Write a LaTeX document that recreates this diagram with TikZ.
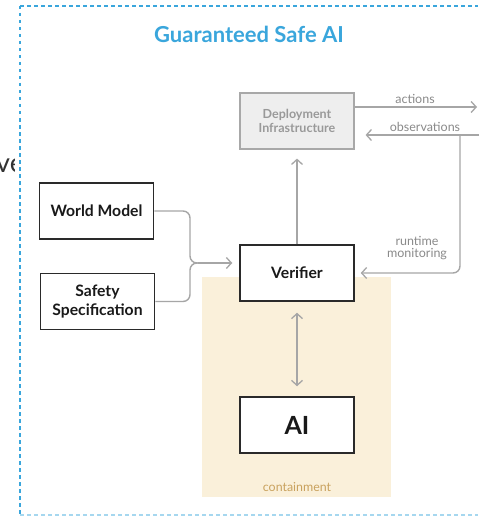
\documentclass[tikz,border=0pt]{standalone}
\usepackage{fontspec}
\setmainfont{Lato}
\usetikzlibrary{arrows.meta}
\definecolor{gsblue}{HTML}{3AA6DC}
\definecolor{lineg}{HTML}{A6A6A6}
\definecolor{depfill}{HTML}{EEEEEE}
\definecolor{depdraw}{HTML}{A8A8A8}
\definecolor{deptext}{HTML}{999999}
\definecolor{contfill}{HTML}{FAF0DA}
\definecolor{conttext}{HTML}{C9A25E}
\definecolor{boxdraw}{HTML}{2A2A2A}
\definecolor{labtext}{HTML}{8A8A8A}
\begin{document}
\begin{tikzpicture}[x=1pt,y=-1pt,
  box/.style={draw=boxdraw, line width=1.5pt, fill=white, minimum width=114pt, minimum height=56pt, inner sep=0pt, align=center, font=\bfseries\fontsize{15.7}{18.5}\selectfont, text=black!90},
  depbox/.style={draw=depdraw, line width=1.2pt, fill=depfill, minimum width=114pt, minimum height=56pt, inner sep=0pt, align=center, font=\bfseries\fontsize{12.5}{14.5}\selectfont, text=deptext},
  conn/.style={draw=lineg, line width=1.4pt},
  tip/.style={-{Straight Barb[length=5pt,width=11pt,line width=1.3pt]}},
  lab/.style={text=labtext, font=\fontsize{12.5}{12.5}\selectfont, inner sep=0pt, align=center},
  frame/.style={gsblue, line width=2pt, dash pattern=on 3.5pt off 3.5pt},
]
\fill[white] (0,0) rectangle (481,516);
\useasboundingbox (0,0) rectangle (481,516);
% fragment of neighbouring slide
\begin{scope}
\clip (0,0) rectangle (14,516);
\node[anchor=base west, inner sep=0pt, text=black!80, font=\fontsize{27}{30}\selectfont] (frag) at (-4,172) {ve};
\end{scope}
% dashed frame
\coordinate (ftl) at (20,6);
\coordinate (fbl) at (20,514.5);
\coordinate (ftr) at (478,6);
\coordinate (fbr) at (478,514.5);
\draw[frame] (ftl) -- (ftr);
\draw[frame] (ftl) -- (fbl);
\draw[frame, draw=gsblue!45] (fbl) -- (fbr);
% title
\node[text=gsblue, font=\bfseries\fontsize{22}{24}\selectfont, inner sep=0pt] (title) at (249,34) {Guaranteed Safe AI};
% containment
\fill[contfill] (202,277) rectangle (391,497);
\node[text=conttext, font=\fontsize{12.4}{13}\selectfont, inner sep=0pt] (cont) at (297,487) {containment};
% boxes
\node[depbox] (dep) at (297,121) {Deployment\\Infrastructure};
\node[box] (ver) at (297,273) {Verifier};
\node[box] (wm) at (96.5,211) {World Model};
\node[box] (ss) at (97.5,301.5) {Safety\\Specification};
\node[box, font=\bfseries\fontsize{25}{28}\selectfont] (ai) at (297,425) {AI};
% coordinates
\coordinate (actEnd) at (477,107);
\coordinate (obsStart) at (479,135);
\coordinate (rmTop) at (460,135);
\coordinate (merge) at (190,263);
% connectors
\draw[conn, tip] (dep.east |- actEnd) -- (actEnd);
\draw[conn, tip, shorten >=11pt] (obsStart) -- (dep.east |- obsStart);
\draw[conn, tip, rounded corners=7pt, shorten >=6pt] (rmTop) |- (ver.east);
\draw[conn, tip, shorten >=9pt] (ver.north) -- (dep.south);
\draw[conn, rounded corners=7pt] (wm.east) -| (merge) -- ([xshift=10pt]merge);
\draw[conn, rounded corners=7pt] (ss.east) -| (merge) -- ([xshift=10pt]merge);
\draw[conn, tip, shorten >=7pt] ([xshift=8pt]merge) -- (ver.west |- merge);
\draw[conn, {Straight Barb[length=5pt,width=11pt,line width=1.3pt]}-{Straight Barb[length=5pt,width=11pt,line width=1.3pt]}, shorten <=11pt, shorten >=10pt] (ver.south) -- (ai.north);
% labels
\node[lab] (lact) at (415,99) {actions};
\node[lab] (lobs) at (425,127) {observations};
\node[lab, font=\fontsize{12.5}{12.5}\selectfont] (lrm) at (417,248) {runtime\\monitoring};
\fill[white] (479.5,0) rectangle (482,516);
\end{tikzpicture}
\end{document}
